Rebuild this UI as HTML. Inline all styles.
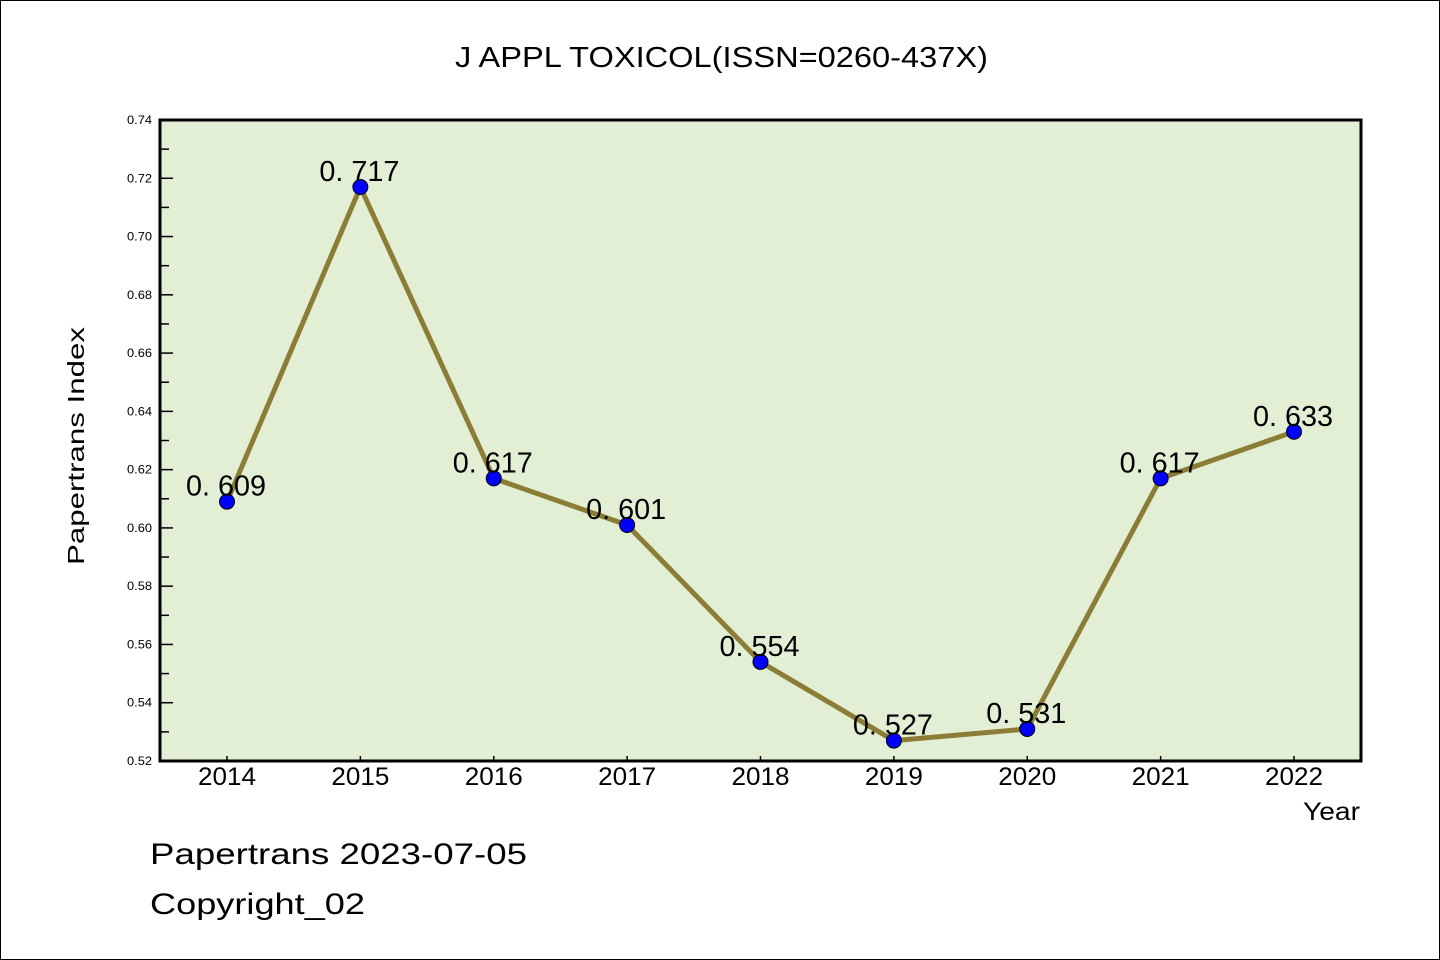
<!DOCTYPE html>
<html><head><meta charset="utf-8"><style>
body{margin:0;background:#fff}
svg{display:block}
text{font-family:"Liberation Sans",sans-serif}
</style></head><body>
<svg id="chart" width="1440" height="960" viewBox="0 0 1440 960" xmlns="http://www.w3.org/2000/svg">
<rect x="0.5" y="0.5" width="1439" height="959" fill="#fff" stroke="#000"/>
<text x="455" y="67" font-size="29" textLength="533" lengthAdjust="spacingAndGlyphs">J APPL TOXICOL(ISSN=0260-437X)</text>
<rect x="160" y="120" width="1201" height="641" fill="#e2efd5"/>
<g id="yaxis"></g>
<g id="xaxis"></g>
<g id="series"></g>
<rect x="160" y="120" width="1201" height="641" fill="none" stroke="#000" stroke-width="3"/>
<text transform="translate(84,565) rotate(-90)" font-size="23" textLength="238" lengthAdjust="spacingAndGlyphs">Papertrans Index</text>
<text x="1303" y="820" font-size="25" textLength="57" lengthAdjust="spacingAndGlyphs">Year</text>
<text x="150" y="864" font-size="30" textLength="377" lengthAdjust="spacingAndGlyphs">Papertrans 2023-07-05</text>
<text x="150" y="914" font-size="30" textLength="215" lengthAdjust="spacingAndGlyphs">Copyright_02</text>
</svg>
<script>
const years=["2014","2015","2016","2017","2018","2019","2020","2021","2022"];
const values=[0.609,0.717,0.617,0.601,0.554,0.527,0.531,0.617,0.633];
const yTicks=[0.52,0.54,0.56,0.58,0.60,0.62,0.64,0.66,0.68,0.70,0.72,0.74];
const NS="http://www.w3.org/2000/svg";
const yMin=0.52,yMax=0.74,plotTop=120,plotBot=761;
const ys=v=>plotBot-(v-yMin)/(yMax-yMin)*(plotBot-plotTop);
const xs=i=>227+i*(1294-227)/(years.length-1);
function mk(t,a,p){const e=document.createElementNS(NS,t);for(const k in a)e.setAttribute(k,a[k]);p.appendChild(e);return e;}
const ya=document.getElementById('yaxis'),xa=document.getElementById('xaxis'),se=document.getElementById('series');
yTicks.forEach((v,i)=>{
 const y=ys(v);
 const l=mk('line',{x1:160,x2:173,y1:y,y2:y,stroke:'#000','stroke-width':1.5},ya);
 
 
 const t=mk('text',{x:127,y:y+4,'font-size':12,textLength:25,lengthAdjust:'spacingAndGlyphs'},ya);
 t.textContent=v.toFixed(2);
 
 
 if(i<yTicks.length-1){const ym=ys(v+0.01);
  const m=mk('line',{x1:160,x2:169,y1:ym,y2:ym,stroke:'#000','stroke-width':1.5},ya);
  
  }
});
years.forEach((yr,i)=>{
 const x=xs(i);
 const l=mk('line',{x1:x,x2:x,y1:plotBot,y2:plotBot-5,stroke:'#000','stroke-width':1.5},xa);
 
 
 const t=mk('text',{x:x-29,y:785,'font-size':25,textLength:58,lengthAdjust:'spacingAndGlyphs'},xa);
 t.textContent=yr;
 
 
});
const pts=values.map((v,i)=>xs(i)+','+ys(v)).join(' ');
const pl=mk('polyline',{points:pts,fill:'none',stroke:'#8b7d35','stroke-width':5,'stroke-linejoin':'round'},se);


values.forEach((v,i)=>{
 const c=mk('circle',{cx:xs(i),cy:ys(v),r:7.5,fill:'#0000ff',stroke:'#000','stroke-width':1},se);
 
 
 const t=mk('text',{x:xs(i)-41,y:ys(v)-6,'font-size':29,textLength:80,lengthAdjust:'spacingAndGlyphs'},se);
 t.textContent='0. '+v.toFixed(3).slice(2);
 
 
});
</script>
</body></html>
